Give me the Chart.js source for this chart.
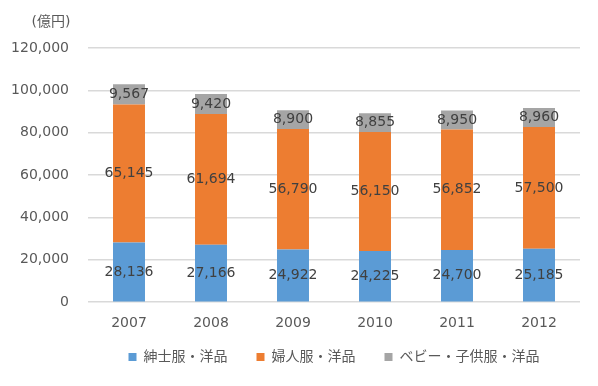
<!DOCTYPE html>
<html><head><meta charset="utf-8">
<script src="https://cdn.jsdelivr.net/npm/chart.js@4"></script>
<style>html,body{margin:0;padding:0;background:#fff;}#wrap{width:598px;height:386px;}</style>
</head><body><div id="wrap"><canvas id="c" width="598" height="386"></canvas></div>
<script>
const categories = ['2007','2008','2009','2010','2011','2012'];
const mens = [28136, 27166, 24922, 24225, 24700, 25185];
const womens = [65145, 61694, 56790, 56150, 56852, 57500];
const kids = [9567, 9420, 8900, 8855, 8950, 8960];
const seriesNames = ['紳士服・洋品', '婦人服・洋品', 'ベビー・子供服・洋品'];
const yTicks = [0, 20000, 40000, 60000, 80000, 100000, 120000];
const unitLabel = '(億円)';

const FONT = '"DejaVu Sans", "Noto Sans CJK JP", sans-serif';
const fmt = v => v.toLocaleString('en-US');

const labelPlugin = {
  id: 'labels',
  afterInit(chart) {
    const lg = chart.legend;
    if (lg && !lg._shifted) {
      const origDraw = lg.draw;
      lg.draw = function (...a) {
        const ctx = this.ctx;
        ctx.save();
        ctx.translate(0, -16);
        origDraw.apply(this, a);
        ctx.restore();
      };
      lg._shifted = true;
    }
  },
  afterDatasetsDraw(chart) {
    const ctx = chart.ctx;
    ctx.save();
    ctx.font = '14px ' + FONT;
    ctx.fillStyle = '#404040';
    ctx.textAlign = 'center';
    ctx.textBaseline = 'middle';
    chart.data.datasets.forEach((ds, i) => {
      const meta = chart.getDatasetMeta(i);
      meta.data.forEach((bar, j) => {
        const p = bar.getProps(['x','y','base'], true);
        ctx.fillText(fmt(ds.data[j]), p.x, (p.y + p.base) / 2);
      });
    });
    ctx.fillStyle = '#595959';
    ctx.fillText(unitLabel, 51, 22);
    ctx.restore();
  }
};

new Chart(document.getElementById('c'), {
  type: 'bar',
  data: {
    labels: categories,
    datasets: [
      { label: seriesNames[0], data: mens, backgroundColor: '#5B9BD5' },
      { label: seriesNames[1], data: womens, backgroundColor: '#ED7D31' },
      { label: seriesNames[2], data: kids, backgroundColor: '#A5A5A5' }
    ]
  },
  options: {
    responsive: false,
    animation: false,
    devicePixelRatio: 1,
    barPercentage: 0.39,
    categoryPercentage: 1,
    layout: { padding: { top: 48, left: 12, right: 18, bottom: -4 } },
    scales: {
      x: {
        stacked: true,
        grid: { display: false },
        border: { display: false },
        ticks: { color: '#595959', font: { family: FONT, size: 14 }, padding: 5 }
      },
      y: {
        stacked: true,
        min: 0, max: 120000,
        afterBuildTicks(axis) { axis.ticks = yTicks.map(v => ({ value: v })); },
        afterFit(axis) { axis.width = 76; },
        grid: { color: '#D9D9D9', lineWidth: 1.5, drawTicks: false },
        border: { display: false },
        ticks: { color: '#595959', font: { family: FONT, size: 14 }, padding: 19, callback: v => fmt(v) }
      }
    },
    plugins: {
      legend: {
        position: 'bottom',
        fullSize: false,
        labels: { color: '#595959', font: { family: FONT, size: 14 }, boxWidth: 8, boxHeight: 8, padding: 29 }
      },
      tooltip: { enabled: false }
    }
  },
  plugins: [labelPlugin]
});
</script></body></html>
